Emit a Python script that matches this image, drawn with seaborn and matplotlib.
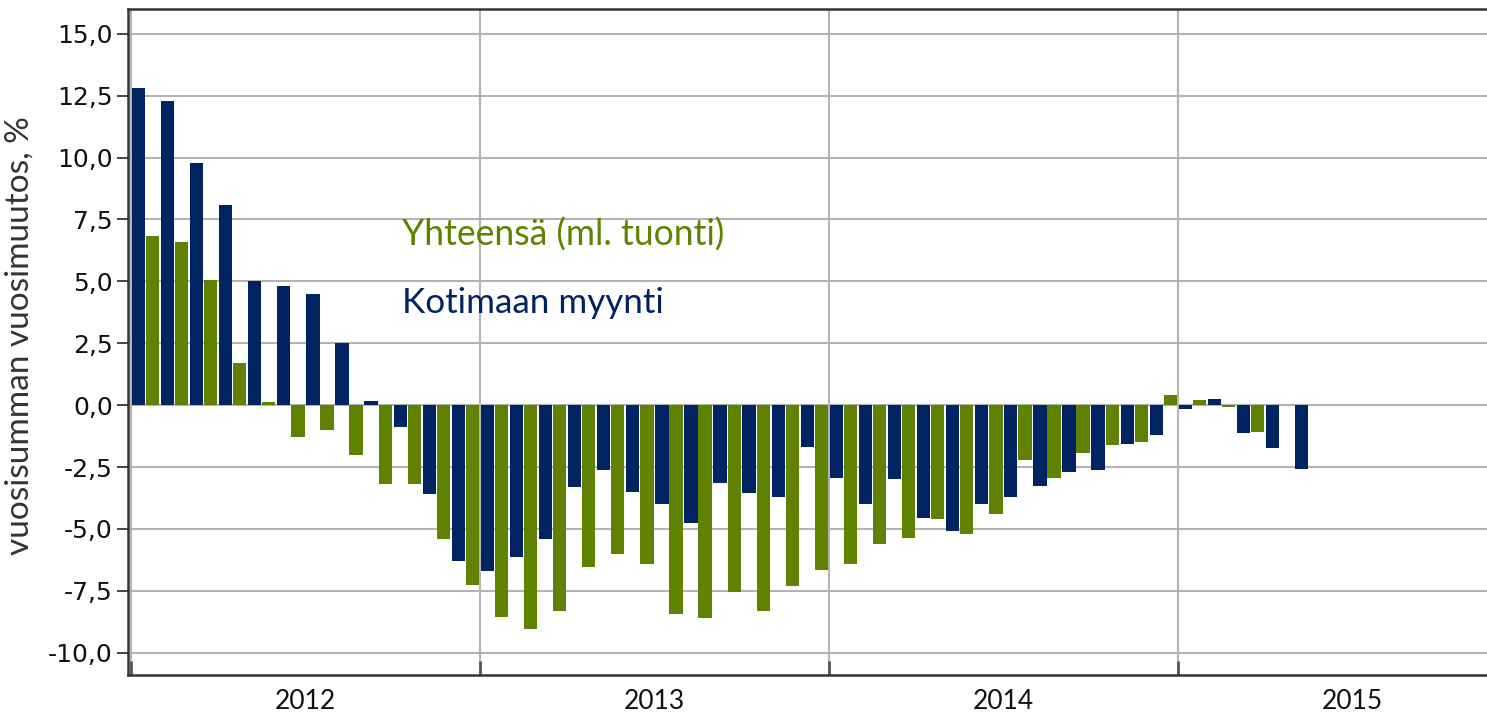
import numpy as np
import pandas as pd
import seaborn as sns
import matplotlib.pyplot as plt
from matplotlib.ticker import FuncFormatter, FixedLocator


sns.set_theme(style="white")

# monthly values, Jan 2012 - May 2015
years = ["2012", "2013", "2014", "2015"]
months = [f"{y}-{m:02d}" for y in years[:3] for m in range(1, 13)] + [f"2015-{m:02d}" for m in range(1, 6)]

kotimaan_myynti = [
    12.8, 12.3, 9.8, 8.1, 5.0, 4.8, 4.5, 2.5, 0.15, -0.9, -3.6, -6.3,
    -6.7, -6.15, -5.4, -3.3, -2.6, -3.5, -4.0, -4.75, -3.15, -3.55, -3.7, -1.7,
    -2.95, -4.0, -3.0, -4.55, -5.1, -4.0, -3.7, -3.25, -2.7, -2.6, -1.55, -1.2,
    -0.16, 0.23, -1.13, -1.75, -2.58,
]
yhteensa = [
    6.85, 6.6, 5.05, 1.7, 0.13, -1.3, -1.0, -2.0, -3.2, -3.2, -5.4, -7.25,
    -8.55, -9.05, -8.3, -6.55, -6.0, -6.4, -8.45, -8.6, -7.55, -8.3, -7.3, -6.65,
    -6.4, -5.6, -5.35, -4.6, -5.2, -4.4, -2.2, -2.95, -1.95, -1.6, -1.5, 0.4,
    0.21, -0.07, -1.07, np.nan, np.nan,
]

label_koti = "Kotimaan myynti"
label_yht = "Yhteensä (ml. tuonti)"
navy = "#002462"
green = "#5F8200"

df = pd.DataFrame({
    "month": months * 2,
    "series": [label_koti] * len(months) + [label_yht] * len(months),
    "value": kotimaan_myynti + yhteensa,
})

fig = plt.figure(figsize=(14.87, 7.17), dpi=100)
ax = fig.add_axes([128 / 1487, 42 / 717, 1 - 128 / 1487, 666 / 717])

sns.barplot(data=df, x="month", y="value", hue="series", order=months,
            hue_order=[label_koti, label_yht], palette=[navy, green], saturation=1,
            width=0.97, gap=0.06, dodge=True, legend=False, ax=ax,
            edgecolor="none", linewidth=0)

ax.set_xlim(-0.6, 46.13)
ax.set_ylim(-10.9, 16.0)

yticks = np.arange(-10, 15.1, 2.5)
ax.set_yticks(yticks)
ax.yaxis.set_major_formatter(FuncFormatter(lambda v, p: f"{v:.1f}".replace(".", ",")))
ax.tick_params(axis="y", direction="out", length=8, width=1.2, color="#222222",
               labelsize=18, labelcolor="#111111", left=True, pad=3)

bounds = [-0.5, 11.5, 23.5, 35.5]
ax.xaxis.set_major_locator(FixedLocator(bounds))
ax.xaxis.set_minor_locator(FixedLocator([5.5, 17.5, 29.5, 41.5]))
ax.set_xticklabels([""] * 4)
ax.set_xticklabels(years, minor=True)
ax.tick_params(axis="x", which="major", direction="in", length=10, width=2, color="#555555", bottom=True)
ax.tick_params(axis="x", which="minor", length=0, labelsize=19, pad=10, labelcolor="#111111")
for lab in ax.get_xticklabels(minor=True):
    lab.set_family(["Lato", "DejaVu Sans"])

ax.grid(True, axis="y", color="#b4b4b4", linewidth=1.5)
ax.grid(True, axis="x", which="major", color="#b4b4b4", linewidth=1.5)
ax.set_axisbelow(True)

for side in ["left", "bottom", "top"]:
    ax.spines[side].set_color("#333333")
    ax.spines[side].set_linewidth(1.8)
ax.spines["right"].set_visible(False)

ax.set_xlabel("")
ax.set_ylabel("vuosisumman vuosimuutos, %", fontsize=24, color="#333333",
              family=["Lato", "DejaVu Sans"])
ax.yaxis.set_label_coords(-0.069, 0.51)

ax.text(8.82, 6.43, label_yht, color=green, fontsize=25.6, va="baseline",
        family=["Lato", "DejaVu Sans"])
ax.text(8.82, 3.74, label_koti, color=navy, fontsize=25.2, va="baseline",
        family=["Lato", "DejaVu Sans"])

fig.savefig("out.png", dpi=100)
